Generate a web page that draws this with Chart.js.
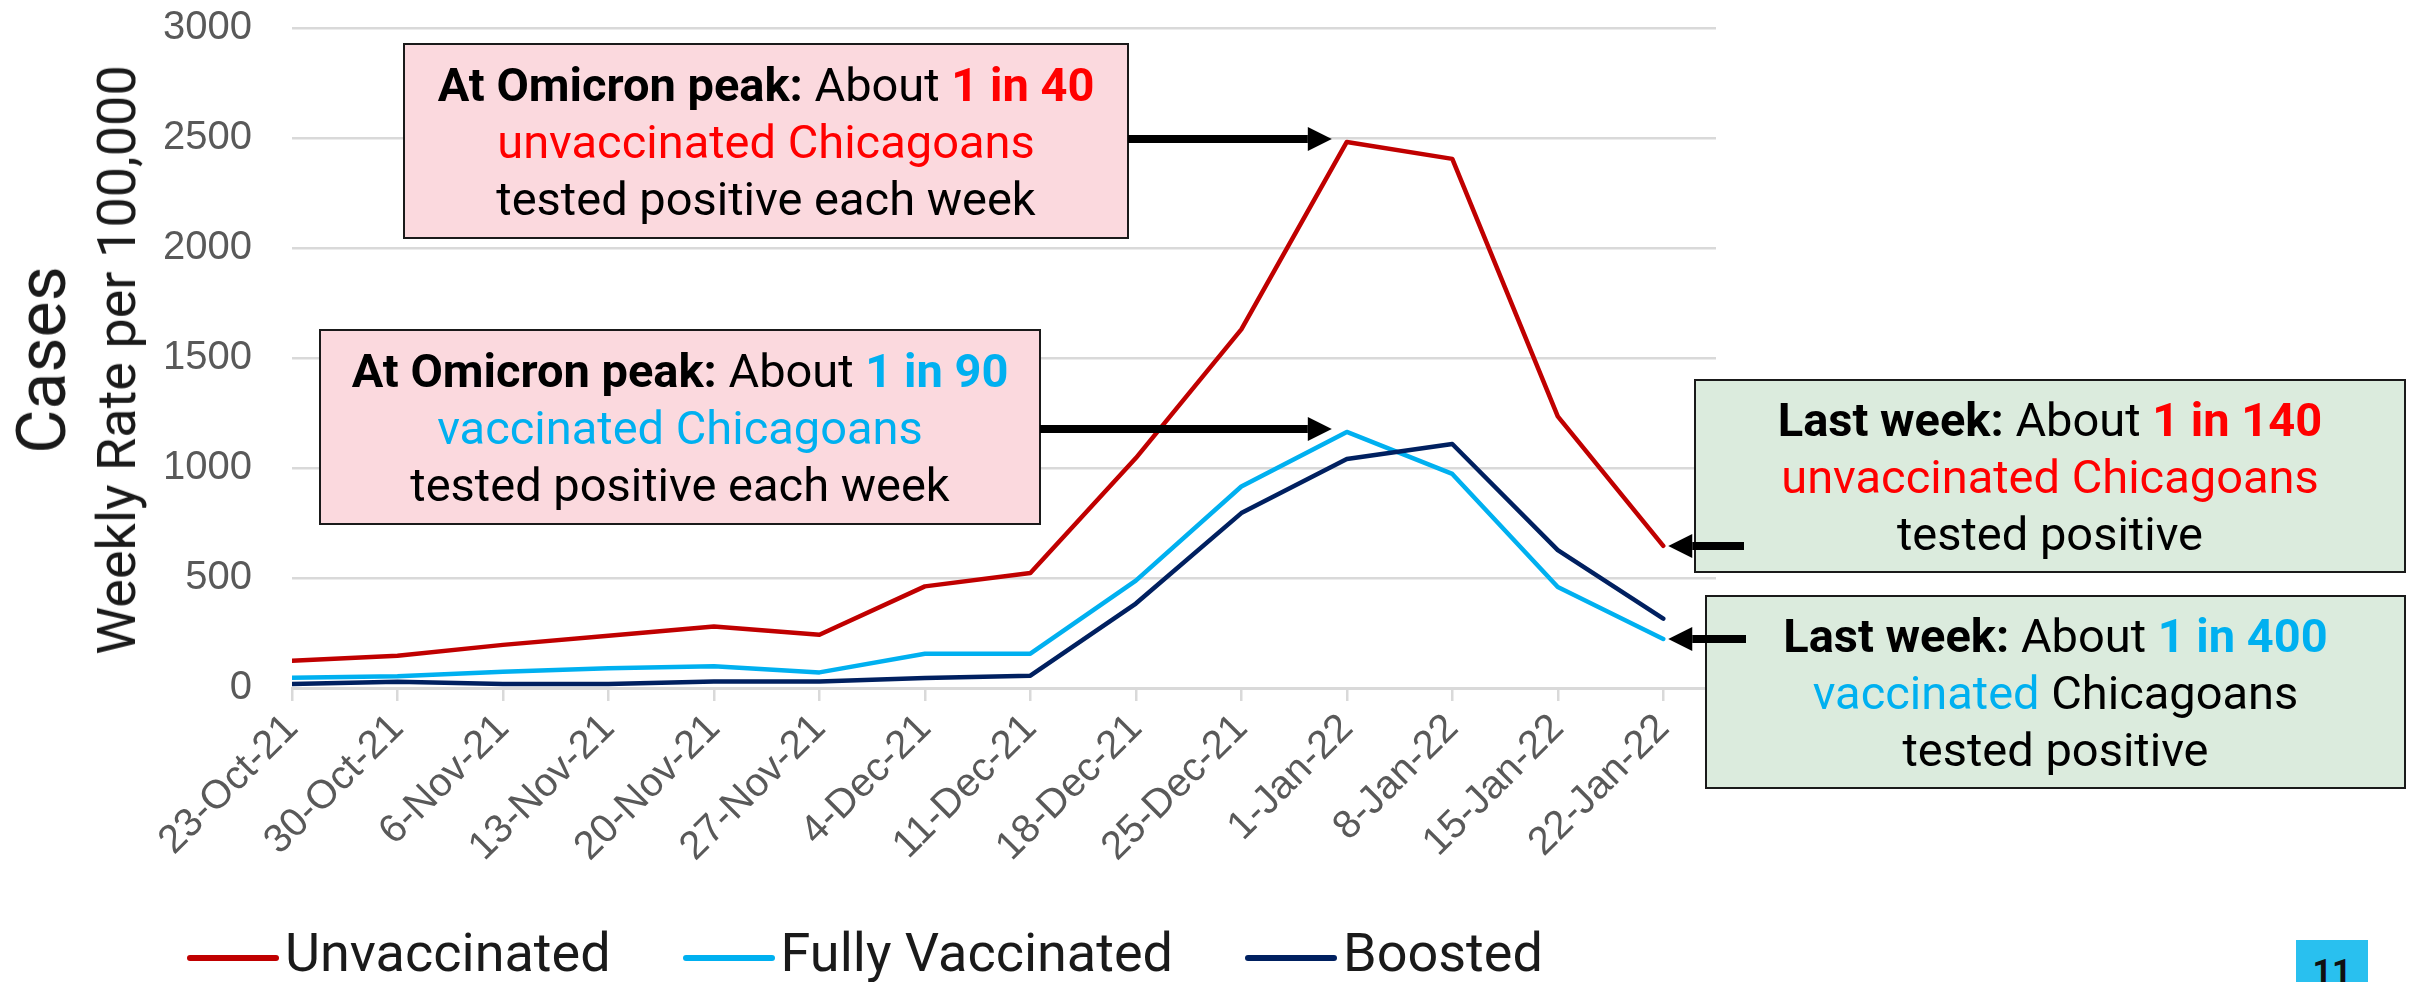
<!DOCTYPE html>
<html lang="en">
<head>
<meta charset="UTF-8">
<title>Weekly case rate by vaccination status</title>
<script src="https://cdn.jsdelivr.net/npm/chart.js"></script>
<style>
    html, body { margin: 0; padding: 0; background: #fff; }
    body { width: 2409px; height: 982px; position: relative; overflow: hidden; font-family: Roboto, "Noto Sans", sans-serif; }
    #wrap { position: absolute; left: 0; top: 0; width: 2409px; height: 982px; }
    .ytitle { position: absolute; white-space: nowrap; line-height: 1; color: #1a1a1a; transform: translate(-50%, -50%) rotate(-90deg); }
    .note { position: absolute; display: flex; flex-direction: column; justify-content: center; align-items: center;
            text-align: center; font-size: 47px; line-height: 57px; color: #000; white-space: nowrap; }
    .red { color: #ff0000; }
    .blue { color: #00b0f0; }
    #legend { position: absolute; left: 187px; top: 920px; height: 66px; display: flex; align-items: center; gap: 72px; }
    .item { display: flex; align-items: center; gap: 6px; font-size: 54px; line-height: 1; color: #1a1a1a; }
    .swatch { width: 92px; height: 6px; border-radius: 3px; margin-top: 10px; }
    #page { position: absolute; left: 2296px; top: 940px; width: 72px; height: 60px; background: #29c0ef;
            text-align: center; font: 700 34px/1 Roboto; color: #111; padding-top: 14px; box-sizing: border-box; }
</style>
</head>
<body>
<div id="wrap"><canvas id="grafico"></canvas></div>

<div class="ytitle" style="left:42px; top:360px; font-size:68px;">Cases</div>
<div class="ytitle" style="left:117px; top:360px; font-size:54px;">Weekly Rate per 100,000</div>

<div id="legend"></div>
<div id="page">11</div>

<script>
    // weekly case rate per 100,000
    const weeks = ['23-Oct-21', '30-Oct-21', '6-Nov-21', '13-Nov-21', '20-Nov-21', '27-Nov-21', '4-Dec-21',
                   '11-Dec-21', '18-Dec-21', '25-Dec-21', '1-Jan-22', '8-Jan-22', '15-Jan-22', '22-Jan-22'];
    const unvaccinated    = [124, 147, 196, 238, 280, 242, 462, 523, 1045, 1630, 2482, 2405, 1235, 646];
    const fullyVaccinated = [47, 53, 74, 90, 99, 71, 156, 156, 488, 916, 1164, 973, 459, 223];
    const boosted         = [18, 28, 18, 18, 30, 30, 45, 56, 384, 795, 1041, 1109, 627, 315];
    const yTicks = [0, 500, 1000, 1500, 2000, 2500, 3000];

    // callout boxes; arrow points at a data point (series, week index)
    const notes = [
        { x: 404, y: 44, w: 724, h: 194, bg: '#fbd9de',
          html: '<div><b>At Omicron peak:</b> About <b class="red">1 in 40</b></div><div class="red">unvaccinated Chicagoans</div><div>tested positive each week</div>',
          arrow: { series: 0, index: 10, tail: 1128, dir: 1 } },
        { x: 320, y: 330, w: 720, h: 194, bg: '#fbd9de',
          html: '<div><b>At Omicron peak:</b> About <b class="blue">1 in 90</b></div><div class="blue">vaccinated Chicagoans</div><div>tested positive each week</div>',
          arrow: { series: 1, index: 10, tail: 1040, dir: 1 } },
        { x: 1695, y: 380, w: 710, h: 192, bg: '#dbebdd',
          html: '<div><b>Last week:</b> About <b class="red">1 in 140</b></div><div class="red">unvaccinated Chicagoans</div><div>tested positive</div>',
          arrow: { series: 0, index: 13, tail: 1744, dir: -1 } },
        { x: 1706, y: 596, w: 699, h: 192, bg: '#dbebdd',
          html: '<div><b>Last week:</b> About <b class="blue">1 in 400</b></div><div><span class="blue">vaccinated</span> Chicagoans</div><div>tested positive</div>',
          arrow: { series: 1, index: 13, tail: 1746, dir: -1 } }
    ];

    function drawArrow(ctx, tailX, tipX, y, dir) {
        const head = 24;
        ctx.beginPath();
        ctx.moveTo(tailX, y);
        ctx.lineTo(tipX - dir * head, y);
        ctx.stroke();
        ctx.beginPath();
        ctx.moveTo(tipX, y);
        ctx.lineTo(tipX - dir * head, y - 12);
        ctx.lineTo(tipX - dir * head, y + 12);
        ctx.closePath();
        ctx.fill();
    }

    const notesPlugin = {
        id: 'notes',
        afterDatasetsDraw(chart) {
            const ctx = chart.ctx;
            ctx.save();
            notes.forEach(n => {
                ctx.fillStyle = n.bg;
                ctx.fillRect(n.x, n.y, n.w, n.h);
                ctx.strokeStyle = '#1a1a1a';
                ctx.lineWidth = 2;
                ctx.strokeRect(n.x, n.y, n.w, n.h);
            });
            ctx.strokeStyle = '#000';
            ctx.fillStyle = '#000';
            ctx.lineWidth = 8;
            notes.forEach(n => {
                const pt = chart.getDatasetMeta(n.arrow.series).data[n.arrow.index];
                const tip = n.arrow.dir > 0 ? pt.x - 15 : pt.x + 5;
                const y = n.arrow.dir > 0 ? pt.y - 3 : pt.y;
                drawArrow(ctx, n.arrow.tail, tip, y, n.arrow.dir);
            });
            ctx.restore();
        }
    };

    const toPoints = arr => arr.map((v, i) => ({ x: i, y: v }));

    let ctx = document.getElementById('grafico').getContext('2d');

    let myChart = new Chart(ctx, {
        type: 'line',
        data: {
            datasets: [{
                label: 'Unvaccinated',
                data: toPoints(unvaccinated),
                borderColor: '#c00000',
                backgroundColor: '#c00000',
                order: 0
            }, {
                label: 'Fully Vaccinated',
                data: toPoints(fullyVaccinated),
                borderColor: '#00b0f0',
                backgroundColor: '#00b0f0',
                order: 2
            }, {
                label: 'Boosted',
                data: toPoints(boosted),
                borderColor: '#002060',
                backgroundColor: '#002060',
                order: 1
            }]
        },
        options: {
            responsive: true,
            maintainAspectRatio: false,
            animation: false,
            layout: { padding: { top: 28, right: 693, left: 0, bottom: 0 } },
            elements: {
                point: { radius: 0 },
                line: { tension: 0, borderWidth: 4.5, borderJoinStyle: 'round', borderCapStyle: 'round' }
            },
            plugins: {
                legend: { display: false },
                tooltip: { enabled: false }
            },
            scales: {
                x: {
                    type: 'linear',
                    min: 0,
                    max: weeks.length - 0.5,
                    afterFit: s => { s.height = 294; s.paddingLeft = 0; s.paddingRight = 0; },
                    grid: { drawOnChartArea: false, drawTicks: true, tickLength: 13, color: '#d9d9d9', lineWidth: 2.5 },
                    border: { display: true, color: '#d9d9d9', width: 3 },
                    ticks: {
                        stepSize: 1,
                        autoSkip: false,
                        includeBounds: false,
                        minRotation: 45,
                        maxRotation: 45,
                        padding: 4,
                        color: '#595959',
                        font: { family: '"Liberation Sans", Arial', size: 40 },
                        callback: v => weeks[v]
                    }
                },
                y: {
                    min: yTicks[0],
                    max: yTicks[yTicks.length - 1],
                    afterFit: s => { s.width = 292; s.paddingTop = 0; s.paddingBottom = 0; },
                    grid: { color: '#d9d9d9', lineWidth: 2.5, drawTicks: false },
                    border: { display: false },
                    ticks: {
                        stepSize: yTicks[1] - yTicks[0],
                        padding: 40,
                        color: '#595959',
                        font: { family: '"Liberation Sans", Arial', size: 40 },
                        callback: v => String(v)
                    }
                }
            }
        },
        plugins: [notesPlugin]
    });

    // callout texts
    notes.forEach(n => {
        let d = document.createElement('div');
        d.className = 'note';
        d.style.left = n.x + 'px';
        d.style.top = n.y + 'px';
        d.style.width = n.w + 'px';
        d.style.height = n.h + 'px';
        d.innerHTML = n.html;
        document.body.appendChild(d);
    });

    // legend from the datasets
    let legend = document.getElementById('legend');
    myChart.data.datasets.forEach(ds => {
        let item = document.createElement('div');
        item.className = 'item';
        item.innerHTML = '<span class="swatch" style="background:' + ds.borderColor + '"></span><span>' + ds.label + '</span>';
        legend.appendChild(item);
    });
</script>
</body>
</html>
